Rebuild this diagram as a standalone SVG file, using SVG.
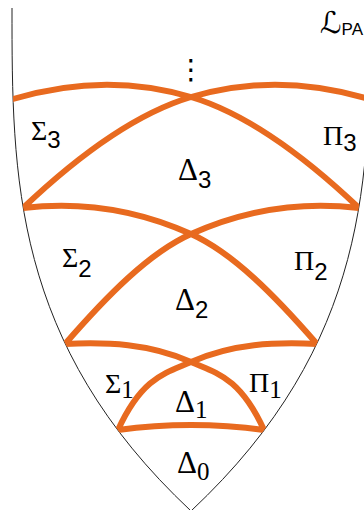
<svg xmlns="http://www.w3.org/2000/svg" width="364" height="510" viewBox="0 0 364 510">
<style>
.bd{fill:none;stroke:#222;stroke-width:1}
.arc{fill:none;stroke:#E86A1F;stroke-width:6;stroke-linejoin:miter;stroke-miterlimit:10;stroke-linecap:square}
.g{font-family:"Liberation Serif","DejaVu Serif",serif;font-size:31px;fill:#000}
.p{font-family:"Liberation Serif","DejaVu Serif",serif;font-size:28px;fill:#000}
.s{font-family:"Liberation Sans","DejaVu Sans",sans-serif;font-size:24px}
.n{font-family:"Liberation Serif","DejaVu Serif",serif;font-size:25px}
</style>
<defs>
<clipPath id="inside">
<path d="M12,-5 L12,8 C12,175.67 12,343.33 191,511 C370,343.33 370,175.67 370,8 L370,-5 Z"/>
</clipPath>
</defs>
<rect width="364" height="510" fill="#fff"/>
<g id="boundary">
<path class="bd" d="M12,8 C12,175.67 12,343.33 191,511 C370,343.33 370,175.67 370,8"/>
</g>
<g id="arcs" clip-path="url(#inside)">
<path class="arc" d="M369,99 C310,81.3 250,79.3 191,97 C135,113.8 79,154.8 23,208 C79,201.3 135,208.8 191,234 C233,252.9 275,295.7 317,344 C275,342 233,343.5 191,362 C166.7,372.7 142.3,376.5 118,430 Q191,420 264,430 C239.7,376.5 215.3,372.7 191,362 C149,343.5 107,342 65,344 C107,295.7 149,252.9 191,234 C247,208.8 303,201.3 359,208 C303,154.8 247,113.8 191,97 C132,79.3 72,81.3 13,99"/>
</g>
<g id="labels">
<text x="320" y="33" font-family="DejaVu Serif, DejaVu Sans, serif" font-size="30">ℒ<tspan font-family="Liberation Sans, sans-serif" font-size="17" dy="2">PA</tspan></text>
<text x="191" y="79" text-anchor="middle" font-family="DejaVu Sans, sans-serif" font-size="28">⋮</text>
<text class="p" x="31" y="140">Σ<tspan class="s" dy="8">3</tspan></text>
<text class="p" x="323" y="145">Π<tspan class="s" dy="6">3</tspan></text>
<text class="g" x="178" y="180">Δ<tspan class="s" dy="8">3</tspan></text>
<text class="p" x="62" y="267">Σ<tspan class="s" dy="10">2</tspan></text>
<text class="p" x="294" y="270">Π<tspan class="s" dy="10">2</tspan></text>
<text class="g" x="175" y="310">Δ<tspan class="s" dy="8">2</tspan></text>
<text class="p" x="105" y="393">Σ<tspan class="n" dy="5">1</tspan></text>
<text class="p" x="249" y="392">Π<tspan class="n" dy="6">1</tspan></text>
<text class="g" x="175" y="412">Δ<tspan class="n" dy="6">1</tspan></text>
<text class="g" x="177" y="473">Δ<tspan class="n" dy="7">0</tspan></text>
</g>
</svg>
